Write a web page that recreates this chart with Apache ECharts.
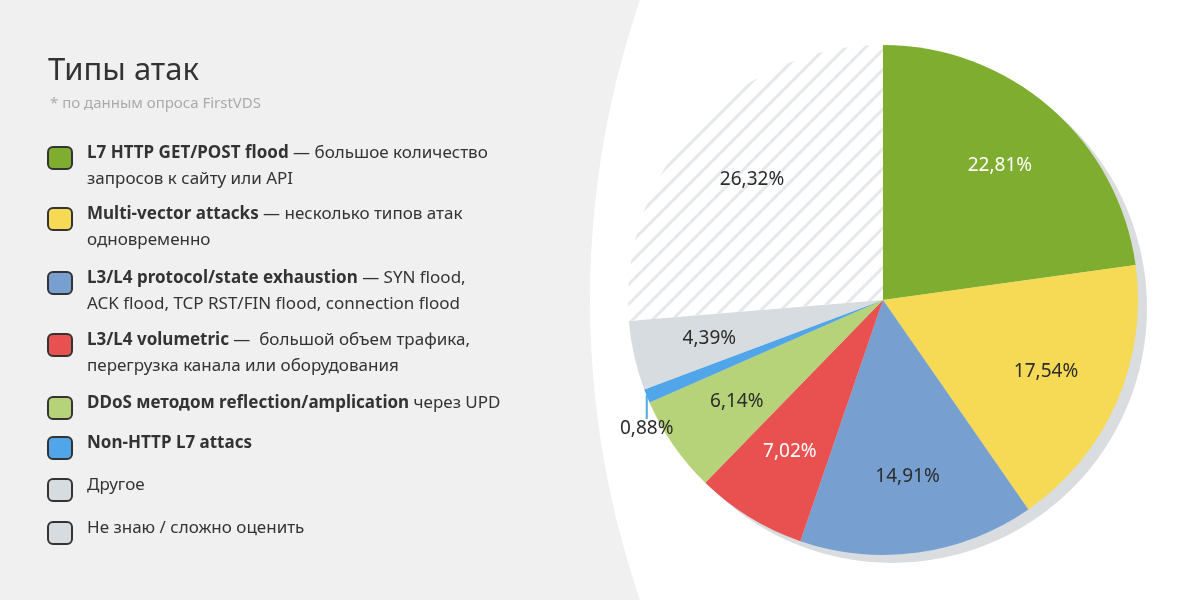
<!DOCTYPE html>
<html><head><meta charset="utf-8">
<script src="https://cdn.jsdelivr.net/npm/echarts@6/dist/echarts.min.js"></script>
<style>html,body{margin:0;padding:0;background:#f0f0f0}#c{width:1200px;height:600px}</style>
</head><body><div id="c"></div>
<script>
const names = ['L7 HTTP GET/POST flood', 'Multi-vector attacks', 'L3/L4 protocol/state exhaustion', 'L3/L4 volumetric', 'DDoS методом reflection/amplication', 'Non-HTTP L7 attacs', 'Другое', 'Не знаю / сложно оценить']
const descLine1 = [' — большое количество', ' — несколько типов атак', ' — SYN flood,', ' —  большой объем трафика,', ' через UPD', '', '', '']
const descLine2 = ['запросов к сайту или API', 'одновременно', 'ACK flood, TCP RST/FIN flood, connection flood', 'перегрузка канала или оборудования', '', '', '', '']
const boldName = [true, true, true, true, true, true, false, false]
const values = [22.81, 17.54, 14.91, 7.02, 6.14, 0.88, 4.39, 26.32]
const colors = ['#7fad2f', '#f6d955', '#77a0d1', '#e95151', '#b6d379', '#50a6e8', '#d6dcdf', '#ffffff']
const labelColors = ['#fff', '#2b2b2b', '#2b2b2b', '#fff', '#2b2b2b', '#2b2b2b', '#2b2b2b', '#2b2b2b']
const rowY = [158, 219, 283, 345, 408, 448, 490, 533]

const font = 'Noto Sans'
const chart = echarts.init(document.getElementById('c'))
const fmt = v => v.toFixed(2).replace('.', ',') + '%'

const graphic = [
  { type: 'circle', shape: { cx: 1515, cy: 300, r: 925 }, style: { fill: '#fff' }, z: -10 },
  { type: 'text', left: 48, top: 56, style: { text: 'Типы атак', font: '31px ' + font, fill: '#333' } },
  { type: 'text', left: 50, top: 96, style: { text: '* по данным опроса FirstVDS', font: '15px ' + font, fill: '#aaa' } },
]
names.forEach((n, i) => {
  const hatched = i === 7
  graphic.push({ type: 'rect', shape: { x: 48, y: rowY[i] - 11, width: 24, height: 22, r: 5 },
    style: { fill: hatched ? '#d6dcdf' : colors[i], stroke: '#333', lineWidth: 2 } })
  let t = '{' + (boldName[i] ? 'b' : 'n') + '|' + n + '}'
  if (descLine1[i]) t += '{n|' + descLine1[i] + '}'
  if (descLine2[i]) t += '\n{n|' + descLine2[i] + '}'
  graphic.push({ type: 'text', left: 87, top: rowY[i] - 13, style: {
    text: t, fill: '#333',
    rich: { b: { font: 'bold 17px ' + font, fill: '#333', lineHeight: 26 }, n: { font: '17px ' + font, fill: '#333', lineHeight: 26 } } } })
})

const pieData = values.map((v, i) => {
  const d = { value: v, name: names[i], itemStyle: { color: colors[i] } }
  if (i === 7) d.itemStyle.decal = { symbol: 'rect', dashArrayX: [1, 0], dashArrayY: [3, 11], rotation: -Math.PI / 4, color: '#e6e9eb' }
  if (i === 5) {
    d.label = { show: true, position: 'outside', formatter: fmt(v), color: '#2b2b2b', fontSize: 19, fontFamily: font, padding: [0, 0, 2, 0] }
    d.labelLine = { show: true, length: 25, length2: 70, lineStyle: { color: '#50a6e8', width: 2 } }
  }
  return d
})

chart.setOption({
  backgroundColor: '#f0f0f0',
  graphic,
  series: [
    { type: 'pie', silent: true, center: [892, 308], radius: [0, 255], startAngle: 90, clockwise: true,
      data: [{ value: 1, itemStyle: { color: '#d9dde0' } }], label: { show: false }, labelLine: { show: false }, z: 1 },
    { type: 'pie', center: [883, 300], radius: [0, 255], startAngle: 90, clockwise: true, silent: true,
      data: pieData, label: { show: false }, labelLine: { show: false }, z: 2,
      labelLayout: { x: 620, y: 440, align: 'left', verticalAlign: 'bottom' } },
    { type: 'pie', center: [883, 300], radius: [100, 250], startAngle: 90, clockwise: true, silent: true, z: 3,
      data: values.map((v, i) => ({ value: v, itemStyle: { color: 'rgba(0,0,0,0)' },
        label: { show: i !== 5, position: 'inside', formatter: fmt(v), color: labelColors[i], fontSize: 19, fontFamily: font } })),
      labelLine: { show: false } },
  ],
})
</script></body></html>
